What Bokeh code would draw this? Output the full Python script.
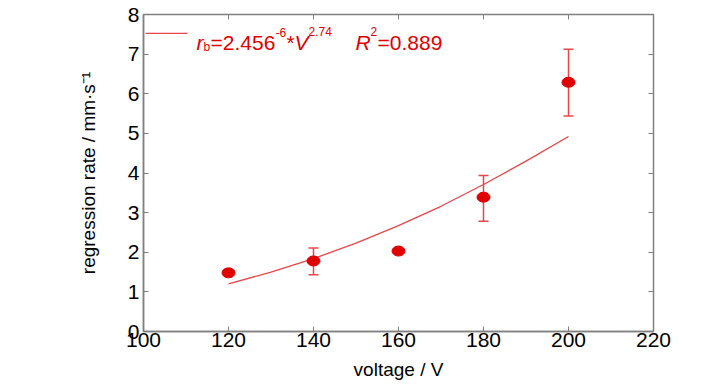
from bokeh.plotting import figure
from bokeh.models import (Range1d, LinearAxis, Label, FixedTicker, Whisker,
                          ColumnDataSource, CustomJSTickFormatter)
from bokeh.embed import file_html
from bokeh.resources import INLINE

# data
voltage = [120, 140, 160, 180, 200]
rate = [1.48, 1.78, 2.03, 3.39, 6.29]
rate_upper = [1.48, 2.11, 2.03, 3.94, 7.12]
rate_lower = [1.48, 1.43, 2.03, 2.78, 5.44]

fit_v = [120, 130, 140, 150, 160, 170, 180, 190, 200]
fit_r = [1.20, 1.50, 1.84, 2.23, 2.67, 3.16, 3.71, 4.30, 4.92]

x_ticks = [100, 120, 140, 160, 180, 200, 220]
y_ticks = [0, 1, 2, 3, 4, 5, 6, 7, 8]

FONT = "Liberation Sans"
RED = "#e00000"
LRED = "#e8464a"
GRAY = "#808080"

p = figure(width=720, height=382, output_backend="svg", toolbar_location=None,
           x_range=Range1d(100, 220), y_range=Range1d(0, 8),
           min_border_left=143, min_border_right=67, min_border_top=14, min_border_bottom=49)
p.xgrid.visible = False
p.ygrid.visible = False
p.outline_line_color = GRAY
p.outline_line_width = 1.5
p.background_fill_color = "white"
p.border_fill_color = "white"

for ax in (p.xaxis[0], p.yaxis[0]):
    ax.major_tick_in = 5
    ax.major_tick_out = 0
    ax.minor_tick_in = 0
    ax.minor_tick_out = 0
    ax.axis_line_color = GRAY
    ax.axis_line_width = 1.5
    ax.major_tick_line_color = GRAY
    ax.major_label_text_font = FONT
    ax.major_label_text_font_size = "21px"
    ax.major_label_text_color = "black"
    ax.axis_label_text_font = FONT
    ax.axis_label_text_font_style = "normal"
    ax.axis_label_text_color = "black"

p.xaxis[0].ticker = FixedTicker(ticks=x_ticks)
p.yaxis[0].ticker = FixedTicker(ticks=y_ticks)
p.xaxis[0].axis_label = "voltage / V"
p.yaxis[0].axis_label = "regression rate / mm\u00b7s\u207b\u00b9"
p.xaxis[0].axis_label_text_font_size = "19px"
p.yaxis[0].axis_label_text_font_size = "19px"
p.xaxis[0].major_label_standoff = 1
p.yaxis[0].major_label_standoff = 4
p.xaxis[0].axis_label_standoff = 9
p.yaxis[0].axis_label_standoff = 26

blank = CustomJSTickFormatter(code="return ''")
top = LinearAxis(ticker=FixedTicker(ticks=x_ticks), formatter=blank,
                 major_tick_in=5, major_tick_out=0, minor_tick_in=0, minor_tick_out=0,
                 axis_line_color=GRAY, major_tick_line_color=GRAY, major_label_standoff=0)
right = LinearAxis(ticker=FixedTicker(ticks=y_ticks), formatter=blank,
                   major_tick_in=5, major_tick_out=0, minor_tick_in=0, minor_tick_out=0,
                   axis_line_color=GRAY, major_tick_line_color=GRAY, major_label_standoff=0)
p.add_layout(top, "above")
p.add_layout(right, "right")

# fit curve
p.line(fit_v, fit_r, line_color=LRED, line_width=1.3)

# error bars
src = ColumnDataSource(dict(x=voltage, y=rate, up=rate_upper, lo=rate_lower))
w = Whisker(base="x", upper="up", lower="lo", source=src, line_color=LRED, line_width=1.5)
for h in (w.upper_head, w.lower_head):
    h.size = 10
    h.line_color = LRED
    h.line_width = 1.5
p.add_layout(w)

# points
p.ellipse(x="x", y="y", width=13, height=10, width_units="screen", height_units="screen",
          source=src, fill_color=RED, line_color=RED)

# legend (manual, rich text), positions given in picture pixels
def px_x(px):
    return 100 + (px - 143) / 4.25

def px_y(py):
    return (333 - py) / 39.875

p.line(x=[px_x(145), px_x(187)], y=[px_y(33), px_y(33)], line_color=LRED, line_width=1.3)

def lab(x, y, text, size, style="normal"):
    p.add_layout(Label(x=px_x(x), y=px_y(y), text=text, text_font=FONT,
                       text_font_size=size, text_color=RED, text_font_style=style,
                       text_baseline="alphabetic", text_align="left"))

base = 42
lab(196, base, "r", "21px", "italic")
lab(203, base + 5, "b", "12px")
lab(210, base, "=2.456", "21px")
lab(275, base - 10, "-6", "12px")
lab(286, base, "*", "21px")
lab(294, base, "V", "21px", "italic")
lab(308, base - 11, "2.74", "12px")
lab(355, base, "R", "21px", "italic")
lab(370, base - 11, "2", "12px")
lab(377, base, "=0.889", "21px")

open("out.html", "w").write(file_html(p, INLINE))
